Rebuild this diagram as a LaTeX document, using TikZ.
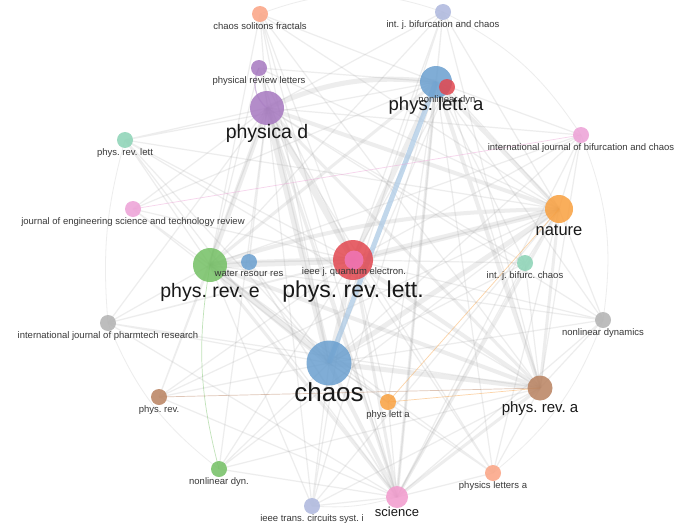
\documentclass[tikz,border=0pt]{standalone}
\usepackage{fontspec}
\setmainfont{Liberation Sans}
\usetikzlibrary{positioning,backgrounds}

\definecolor{cblue}{HTML}{6A9FCF}
\definecolor{cred}{HTML}{E2474F}
\definecolor{cpurple}{HTML}{A678C0}
\definecolor{cgreen}{HTML}{74C064}
\definecolor{corange}{HTML}{F9A03F}
\definecolor{cbrown}{HTML}{B98260}
\definecolor{csalmon}{HTML}{FBA383}
\definecolor{clav}{HTML}{ADB7DD}
\definecolor{cteal}{HTML}{8BD3B5}
\definecolor{cpink}{HTML}{EDA0D6}
\definecolor{csci}{HTML}{F29ACD}
\definecolor{cieee}{HTML}{F076B8}
\definecolor{cgray}{HTML}{B2B2B2}

\frenchspacing
\begin{document}
\begin{tikzpicture}[
    x=1pt, y=-1pt,
    jrnl/.style={circle, draw=none, fill=#1, fill opacity=.85, inner sep=0pt},
    small/.style={minimum size=16pt},
    lbl/.style={inner sep=0pt, text=black!78, font=\fontsize{9.5}{10}\selectfont},
    biglbl/.style={inner sep=0pt, text=black!90, font=\fontsize{#1}{#1}\selectfont},
    lnk/.style={draw=black!35, draw opacity=.2, line width=#1},
    lnk/.default=1pt,
    clnk/.style={draw=#1, draw opacity=.45, line width=.7pt}
]
\useasboundingbox (0,0) rectangle (695,527);

% main journals
\node[jrnl=cblue, minimum size=45pt] (chaos) at (329,363) {};
\node[jrnl=cred, minimum size=40pt] (prl) at (353,260) {};
\node[jrnl=cgreen, minimum size=34pt] (pre) at (210,265) {};
\node[jrnl=cpurple, minimum size=34pt] (physd) at (267,108) {};
\node[jrnl=cblue, minimum size=32pt] (pla) at (436,82) {};
\node[jrnl=corange, minimum size=28pt] (nature) at (559,209) {};
\node[jrnl=cbrown, minimum size=25pt] (pra) at (540,388) {};
\node[jrnl=csci, minimum size=22pt] (science) at (397,497) {};

% smaller journals
\node[jrnl=csalmon, small] (csf) at (260,14) {};
\node[jrnl=clav, small] (ijbc) at (443,12) {};
\node[jrnl=cpurple, small] (prletters) at (259,68) {};
\node[jrnl=cred, small] (nldyn) at (447,87) {};
\node[jrnl=cteal, small] (prlett) at (125,140) {};
\node[jrnl=cpink, small] (ijbcfull) at (581,135) {};
\node[jrnl=cpink, small] (jestr) at (133,209) {};
\node[jrnl=cblue, small] (water) at (249,262) {};
\node[jrnl=cieee, minimum size=19pt] (ieeeqe) at (354,260) {};
\node[jrnl=cteal, small] (ijbcshort) at (525,263) {};
\node[jrnl=cgray, small] (pharm) at (108,323) {};
\node[jrnl=cgray, small] (nldyns) at (603,320) {};
\node[jrnl=cbrown, small] (prev) at (159,397) {};
\node[jrnl=corange, small] (plasm) at (388,402) {};
\node[jrnl=cgreen, small] (nldgreen) at (219,469) {};
\node[jrnl=csalmon, small] (physla) at (493,473) {};
\node[jrnl=clav, small] (ieeecas) at (312,506) {};

\begin{scope}[on background layer]
\fill[white] (0,0) rectangle (695,527);
% strong links
\draw[lnk=7] (chaos.center) -- (physd.center) (pre.center) -- (prl.center);
\draw[lnk=6] (chaos.center) -- (pre.center) (physd.center) -- (prl.center)
    (prl.center) -- (nature.center);
\draw[lnk=5] (chaos.center) -- (pra.center) (pla.center) -- (prl.center)
    (chaos.center) -- (nature.center) (physd.center) -- (pre.center)
    (physd.center) to[bend left=15] (pla.center);
\draw[lnk=4] (prl.center) -- (pra.center) (chaos.center) -- (science.center)
    (pla.center) -- (nature.center) (pre.center) to[bend left=8] (nature.center)
    (physd.center) -- (nature.center) (pre.center) -- (pra.center)
    (pla.center) -- (pra.center) (chaos.center) -- (prl.center);
\draw[lnk=3] (pre.center) -- (science.center) (physd.center) -- (pra.center)
    (physd.center) -- (science.center) (pla.center) -- (science.center)
    (nature.center) -- (pra.center) (nature.center) -- (science.center)
    (pra.center) -- (science.center) (pre.center) -- (pla.center)
    (prl.center) -- (science.center);
% links of the smaller journals
\draw[lnk=1.2] (csf.center) -- (chaos.center) (csf.center) -- (physd.center)
    (csf.center) -- (prl.center) (csf.center) -- (pre.center)
    (csf.center) -- (pla.center) (csf.center) -- (nature.center)
    (csf.center) -- (science.center) (csf.center) -- (pra.center);
\draw[lnk=1.2] (ijbc.center) -- (pla.center) (ijbc.center) -- (chaos.center)
    (ijbc.center) -- (prl.center) (ijbc.center) -- (nature.center)
    (ijbc.center) -- (pra.center) (ijbc.center) -- (physd.center)
    (ijbc.center) -- (science.center) (ijbc.center) -- (pre.center);
\draw[lnk=1.2] (prletters.center) -- (chaos.center) (prletters.center) -- (prl.center)
    (prletters.center) -- (pre.center) (prletters.center) -- (pla.center)
    (prletters.center) -- (nature.center) (prletters.center) -- (science.center);
\draw[lnk=1.2] (nldyn.center) -- (chaos.center) (nldyn.center) -- (prl.center)
    (nldyn.center) -- (nature.center) (nldyn.center) -- (pra.center);
\draw[lnk=1.2] (prlett.center) -- (physd.center) (prlett.center) -- (chaos.center)
    (prlett.center) -- (prl.center) (prlett.center) -- (pre.center)
    (prlett.center) -- (pla.center) (prlett.center) -- (nature.center)
    (prlett.center) -- (science.center) (prlett.center) -- (pra.center);
\draw[lnk=1.2] (ijbcfull.center) -- (nature.center) (ijbcfull.center) -- (pla.center)
    (ijbcfull.center) -- (chaos.center) (ijbcfull.center) -- (prl.center)
    (ijbcfull.center) -- (pra.center) (ijbcfull.center) -- (science.center)
    (ijbcfull.center) -- (physd.center) (ijbcfull.center) -- (pre.center);
\draw[lnk=1.2] (jestr.center) -- (pre.center) (jestr.center) -- (chaos.center)
    (jestr.center) -- (prl.center) (jestr.center) -- (physd.center)
    (jestr.center) -- (pla.center);
\draw[lnk=1.5] (water.center) -- (pre.center) (water.center) -- (prl.center)
    (water.center) -- (chaos.center) (water.center) -- (physd.center)
    (water.center) -- (science.center);
\draw[lnk=1.2] (ijbcshort.center) -- (nature.center) (ijbcshort.center) -- (chaos.center)
    (ijbcshort.center) -- (prl.center) (ijbcshort.center) -- (pra.center)
    (ijbcshort.center) -- (pla.center) (ijbcshort.center) -- (science.center)
    (ijbcshort.center) -- (physd.center);
\draw[lnk=1.2] (pharm.center) -- (pre.center) (pharm.center) -- (chaos.center)
    (pharm.center) -- (prl.center) (pharm.center) -- (physd.center)
    (pharm.center) -- (science.center) (pharm.center) -- (pra.center)
    (pharm.center) -- (nature.center);
\draw[lnk=1.2] (nldyns.center) -- (nature.center) (nldyns.center) -- (chaos.center)
    (nldyns.center) -- (pra.center) (nldyns.center) -- (prl.center)
    (nldyns.center) -- (pla.center) (nldyns.center) -- (science.center)
    (nldyns.center) -- (physd.center) (nldyns.center) -- (pre.center);
\draw[lnk=1.2] (prev.center) -- (chaos.center) (prev.center) -- (pre.center)
    (prev.center) -- (physd.center) (prev.center) -- (prl.center)
    (prev.center) -- (science.center) (prev.center) -- (nature.center);
\draw[lnk=1.2] (plasm.center) -- (chaos.center) (plasm.center) -- (prl.center)
    (plasm.center) -- (science.center) (plasm.center) -- (pla.center)
    (plasm.center) -- (pre.center);
\draw[lnk=1.2] (nldgreen.center) -- (chaos.center) (nldgreen.center) -- (prl.center)
    (nldgreen.center) -- (physd.center) (nldgreen.center) -- (science.center)
    (nldgreen.center) -- (pra.center) (nldgreen.center) -- (nature.center);
\draw[lnk=1.2] (physla.center) -- (pra.center) (physla.center) -- (chaos.center)
    (physla.center) -- (prl.center) (physla.center) -- (nature.center)
    (physla.center) -- (science.center) (physla.center) -- (pla.center)
    (physla.center) -- (physd.center) (physla.center) -- (pre.center);
\draw[lnk=1.2] (ieeecas.center) -- (chaos.center) (ieeecas.center) -- (prl.center)
    (ieeecas.center) -- (pre.center) (ieeecas.center) -- (science.center)
    (ieeecas.center) -- (physd.center) (ieeecas.center) -- (pra.center)
    (ieeecas.center) -- (nature.center) (ieeecas.center) -- (pla.center);
% faint outer arcs
\draw[lnk=.8] (csf.center) to[bend left=20] (ijbc.center)
    (ijbcfull.center) to[bend left=15] (nldyns.center)
    (nldyns.center) to[bend left=15] (physla.center)
    (pharm.center) to[bend right=15] (nldgreen.center)
    (prlett.center) to[bend right=10] (pharm.center)
    (ieeecas.center) to[bend right=10] (science.center)
    (ijbc.center) to[bend left=15] (ijbcfull.center);
% coloured links
\draw[draw=cblue!55, draw opacity=.75, line width=5pt] (chaos.center) -- (pla.center);
\draw[clnk=cpink] (jestr.center) -- (ijbcfull.center);
\draw[clnk=cgreen] (pre.center) to[bend right=12] (nldgreen.center);
\draw[clnk=cbrown] (prev.center) -- (pra.center);
\draw[clnk=corange] (plasm.center) -- (pra.center) (plasm.center) -- (nature.center);
\draw[clnk=cpurple, line width=1.2pt] (prletters.center) to[bend right=40] (physd.center);
\end{scope}

% small labels
\node[lbl, below=0pt of csf] {chaos solitons fractals};
\node[lbl, below=0pt of ijbc] {int. j. bifurcation and chaos};
\node[lbl, below=0pt of prletters] {physical review letters};
\node[lbl, below=0pt of nldyn] {nonlinear dyn};
\node[lbl, below=0pt of prlett] {phys. rev. lett};
\node[lbl, below=0pt of ijbcfull] {international journal of bifurcation and chaos};
\node[lbl, below=0pt of jestr] {journal of engineering science and technology review};
\node[lbl, below=0pt of water] {water resour res};
\node[lbl, below=-2pt of ieeeqe] {ieee j. quantum electron.};
\node[lbl, below=0pt of ijbcshort] {int. j. bifurc. chaos};
\node[lbl, below=0pt of pharm] {international journal of pharmtech research};
\node[lbl, below=0pt of nldyns] {nonlinear dynamics};
\node[lbl, below=0pt of prev] {phys. rev.};
\node[lbl, below=0pt of plasm] {phys lett a};
\node[lbl, below=0pt of nldgreen] {nonlinear dyn.};
\node[lbl, below=0pt of physla] {physics letters a};
\node[lbl, below=0pt of ieeecas] {ieee trans. circuits syst. i};

% large labels
\node[biglbl=26, below=-3pt of chaos] {chaos};
\node[biglbl=23, below=0pt of prl] {phys. rev. lett.};
\node[biglbl=19.5, below=1pt of pre] {phys. rev. e};
\node[biglbl=19.5, below=-1pt of physd] {physica d};
\node[biglbl=18.5, below=-1pt of pla] {phys. lett. a};
\node[biglbl=16.5, below=1pt of nature] {nature};
\node[biglbl=15, below=1pt of pra] {phys. rev. a};
\node[biglbl=13, below=-1pt of science] {science};
\end{tikzpicture}
\end{document}
